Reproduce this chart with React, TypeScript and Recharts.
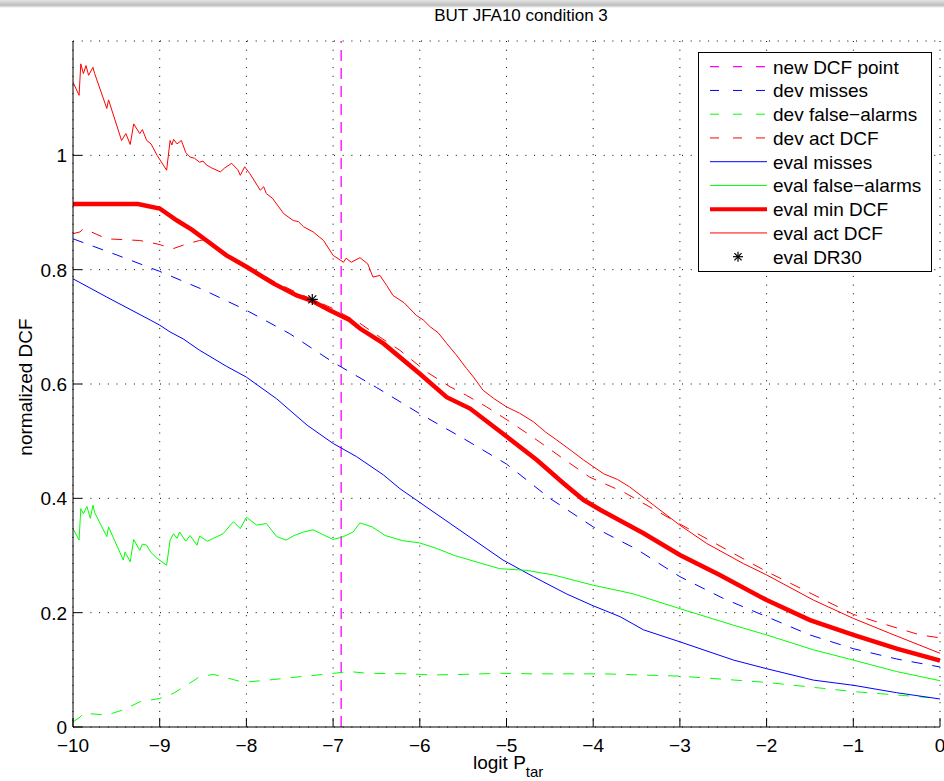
import React from 'react';
import {
  ComposedChart,
  Line,
  XAxis,
  YAxis,
  CartesianGrid,
  ReferenceLine,
  Legend,
  Label,
} from 'recharts';

type Pt = [number, number];

// Axis ticks
const xTicks = [-10, -9, -8, -7, -6, -5, -4, -3, -2, -1, 0];
const yTicks = [0, 0.2, 0.4, 0.6, 0.8, 1];

// logit of the new target prior (0.001)
const newDcfPoint = -6.907;

// eval DR30 operating point
const evalDr30: Pt[] = [[-7.24, 0.748]];

const devMisses: Pt[] = [
  [-10, 0.854], [-9.5, 0.826], [-9, 0.797], [-8.5, 0.765], [-8, 0.729],
  [-7.5, 0.688], [-7, 0.638], [-6.5, 0.594], [-6, 0.548], [-5.5, 0.505],
  [-5, 0.46], [-4.5, 0.4], [-4, 0.35], [-3.5, 0.311], [-3, 0.263],
  [-2.5, 0.225], [-2, 0.193], [-1.5, 0.161], [-1, 0.137], [-0.5, 0.119], [0, 0.105],
];

const devFalseAlarms: Pt[] = [
  [-10, 0.009], [-9.92, 0.017], [-9.88, 0.024], [-9.61, 0.021], [-9.42, 0.03],
  [-9.23, 0.044], [-9.0, 0.05], [-8.84, 0.059], [-8.69, 0.073], [-8.54, 0.088],
  [-8.38, 0.092], [-8.15, 0.083], [-8.04, 0.078], [-7.69, 0.083], [-7.38, 0.088],
  [-7.11, 0.092], [-6.81, 0.097], [-6.61, 0.094], [-6.11, 0.093], [-5.88, 0.091],
  [-5.5, 0.092], [-5.07, 0.094], [-4.69, 0.093], [-3.89, 0.093], [-3.0, 0.089],
  [-2.0, 0.078], [-1.0, 0.062], [0, 0.05],
];

const devActDcf: Pt[] = [
  [-10, 0.863], [-9.92, 0.866], [-9.88, 0.872], [-9.61, 0.854], [-9.23, 0.851],
  [-9.03, 0.845], [-8.84, 0.837], [-8.69, 0.845], [-8.54, 0.851], [-8.46, 0.853],
  [-8.3, 0.832], [-8.0, 0.808], [-7.69, 0.78], [-7.42, 0.76], [-7.0, 0.732],
  [-6.69, 0.706], [-6.46, 0.682], [-6.23, 0.659], [-5.92, 0.621], [-5.65, 0.595],
  [-5.46, 0.58], [-5.23, 0.56], [-4.96, 0.534], [-4.65, 0.502], [-4.38, 0.473],
  [-4.04, 0.437], [-3.65, 0.411], [-3.0, 0.355], [-2.0, 0.272], [-1.0, 0.197],
  [-0.73, 0.184], [-0.23, 0.161], [0, 0.156],
];

const evalMisses: Pt[] = [
  [-10, 0.784], [-9.61, 0.752], [-9.11, 0.712], [-9.0, 0.703], [-8.88, 0.691],
  [-8.73, 0.679], [-8.54, 0.659], [-8.23, 0.631], [-8.0, 0.612], [-7.65, 0.574],
  [-7.3, 0.528], [-7.0, 0.496], [-6.73, 0.473], [-6.42, 0.441], [-6.23, 0.417],
  [-5.65, 0.356], [-5.04, 0.292], [-4.69, 0.263], [-4.31, 0.233], [-4.0, 0.212],
  [-3.69, 0.193], [-3.42, 0.17], [-3.0, 0.149], [-2.38, 0.117], [-2.0, 0.102],
  [-1.46, 0.082], [-1.0, 0.073], [-0.5, 0.06], [0, 0.049],
];

const evalFalseAlarms: Pt[] = [
  [-10, 0.347], [-9.93, 0.327], [-9.91, 0.382], [-9.88, 0.373], [-9.84, 0.386],
  [-9.8, 0.365], [-9.77, 0.388], [-9.75, 0.375], [-9.61, 0.333], [-9.59, 0.35],
  [-9.42, 0.292], [-9.4, 0.306], [-9.34, 0.289], [-9.3, 0.328], [-9.23, 0.309],
  [-9.2, 0.32], [-9.15, 0.318], [-9.1, 0.305], [-9.03, 0.295], [-8.92, 0.283],
  [-8.88, 0.327], [-8.84, 0.338], [-8.8, 0.33], [-8.77, 0.341], [-8.7, 0.325],
  [-8.65, 0.335], [-8.57, 0.318], [-8.54, 0.334], [-8.45, 0.325], [-8.38, 0.33],
  [-8.27, 0.338], [-8.15, 0.359], [-8.07, 0.347], [-8.0, 0.367], [-7.88, 0.353],
  [-7.77, 0.356], [-7.65, 0.333], [-7.54, 0.327], [-7.45, 0.335], [-7.34, 0.341],
  [-7.23, 0.345], [-7.11, 0.336], [-7.0, 0.328], [-6.88, 0.333], [-6.77, 0.341],
  [-6.69, 0.357], [-6.55, 0.35], [-6.4, 0.335], [-6.2, 0.326], [-6.0, 0.322],
  [-5.8, 0.312], [-5.6, 0.3], [-5.42, 0.292], [-5.08, 0.277], [-4.77, 0.274],
  [-4.46, 0.266], [-4.0, 0.248], [-3.69, 0.238], [-3.54, 0.233], [-3.0, 0.207],
  [-2.38, 0.178], [-2.0, 0.161], [-1.46, 0.135], [-1.0, 0.117], [-0.5, 0.097], [0, 0.081],
];

const evalMinDcf: Pt[] = [
  [-10, 0.915], [-9.25, 0.915], [-9.0, 0.907], [-8.8, 0.886], [-8.63, 0.87],
  [-8.46, 0.851], [-8.23, 0.825], [-8.0, 0.805], [-7.69, 0.776], [-7.42, 0.755],
  [-7.25, 0.746], [-7.04, 0.729], [-6.81, 0.712], [-6.69, 0.697], [-6.42, 0.671],
  [-6.0, 0.618], [-5.69, 0.577], [-5.42, 0.557], [-5.04, 0.513], [-4.65, 0.467],
  [-4.34, 0.426], [-4.11, 0.397], [-3.92, 0.38], [-3.42, 0.339], [-3.0, 0.301],
  [-2.54, 0.266], [-2.0, 0.222], [-1.5, 0.187], [-1.0, 0.161], [-0.5, 0.137], [0, 0.116],
];

const evalActDcf: Pt[] = [
  [-10, 1.128], [-9.93, 1.105], [-9.91, 1.16], [-9.88, 1.143], [-9.85, 1.157],
  [-9.82, 1.14], [-9.77, 1.154], [-9.75, 1.143], [-9.61, 1.082], [-9.59, 1.097],
  [-9.44, 1.026], [-9.39, 1.038], [-9.34, 1.019], [-9.3, 1.055], [-9.23, 1.038],
  [-9.2, 1.045], [-9.15, 1.026], [-9.1, 1.02], [-9.03, 1.0], [-8.92, 0.974],
  [-8.88, 1.026], [-8.86, 1.018], [-8.84, 1.028], [-8.8, 1.02], [-8.75, 1.026],
  [-8.7, 1.005], [-8.65, 0.997], [-8.6, 0.995], [-8.54, 0.988], [-8.5, 0.99],
  [-8.46, 0.983], [-8.4, 0.978], [-8.3, 0.971], [-8.25, 0.978], [-8.17, 0.986],
  [-8.1, 0.975], [-8.07, 0.965], [-8.02, 0.98], [-7.96, 0.968], [-7.84, 0.939],
  [-7.8, 0.945], [-7.77, 0.933], [-7.7, 0.925], [-7.57, 0.898], [-7.46, 0.886],
  [-7.4, 0.884], [-7.34, 0.875], [-7.23, 0.866], [-7.11, 0.851], [-7.0, 0.825],
  [-6.88, 0.813], [-6.85, 0.82], [-6.79, 0.813], [-6.69, 0.821], [-6.6, 0.81],
  [-6.54, 0.787], [-6.46, 0.79], [-6.38, 0.772], [-6.31, 0.755], [-6.18, 0.742],
  [-6.04, 0.72], [-5.96, 0.712], [-5.88, 0.7], [-5.79, 0.69], [-5.69, 0.671],
  [-5.58, 0.651], [-5.46, 0.627], [-5.38, 0.612], [-5.27, 0.589], [-5.15, 0.575],
  [-5.0, 0.56], [-4.85, 0.549], [-4.69, 0.534], [-4.55, 0.516], [-4.42, 0.502],
  [-4.25, 0.483], [-4.11, 0.467], [-3.88, 0.443], [-3.72, 0.433], [-3.58, 0.42],
  [-3.38, 0.397], [-3.0, 0.353], [-2.69, 0.321], [-2.27, 0.286], [-2.0, 0.266],
  [-1.46, 0.222], [-1.0, 0.19], [-0.58, 0.164], [0, 0.129],
];

const FONT = '"Liberation Sans", Arial, Helvetica, sans-serif';
const FS = 19;

const RED = '#ff0000';
const BLUE = '#0000ff';
const GREEN = '#00ff00';
const MAGENTA = '#ff00ff';

const rows = (pts: Pt[]) => pts.map(([x, y]) => ({ x, y }));

const fmtX = (v: number) => (v < 0 ? `\u2212${Math.abs(v)}` : `${v}`);

// Inward-pointing ticks, MATLAB style
const XTick = (props: any) => {
  const { x, y, payload } = props;
  return (
    <g>
      <line x1={x} x2={x} y1={y} y2={y - 9} stroke="#000" strokeWidth={1} />
      <text x={x} y={y + 25} textAnchor="middle" fontSize={FS} fontFamily={FONT} fill="#000">
        {fmtX(payload.value)}
      </text>
    </g>
  );
};

const YTick = (props: any) => {
  const { x, y, payload } = props;
  return (
    <g>
      <line x1={x} x2={x + 9} y1={y} y2={y} stroke="#000" strokeWidth={1} />
      <text x={x - 6} y={y + 7} textAnchor="end" fontSize={FS} fontFamily={FONT} fill="#000">
        {String(payload.value)}
      </text>
    </g>
  );
};

const Asterisk = ({ cx, cy, r = 5 }: { cx: number; cy: number; r?: number }) => {
  const d = r * 0.72;
  return (
    <g stroke="#000" strokeWidth={1.2}>
      <line x1={cx - r} x2={cx + r} y1={cy} y2={cy} />
      <line x1={cx} x2={cx} y1={cy - r} y2={cy + r} />
      <line x1={cx - d} x2={cx + d} y1={cy - d} y2={cy + d} />
      <line x1={cx - d} x2={cx + d} y1={cy + d} y2={cy - d} />
    </g>
  );
};

const AsteriskDot = (props: any) => {
  const { cx, cy } = props;
  if (cx == null || cy == null) return null;
  return <Asterisk cx={cx} cy={cy} r={5.5} />;
};

const legendItems = [
  { label: 'new DCF point', color: MAGENTA, width: 1.3, dash: true },
  { label: 'dev misses', color: BLUE, width: 1, dash: true },
  { label: 'dev false\u2212alarms', color: GREEN, width: 1, dash: true },
  { label: 'dev act DCF', color: RED, width: 1, dash: true },
  { label: 'eval misses', color: BLUE, width: 1, dash: false },
  { label: 'eval false\u2212alarms', color: GREEN, width: 1, dash: false },
  { label: 'eval min DCF', color: RED, width: 4, dash: false },
  { label: 'eval act DCF', color: RED, width: 1, dash: false },
  { label: 'eval DR30', color: '#000', width: 1, dash: false, marker: true },
];

const LegendBox = () => (
  <svg width={234} height={220} style={{ display: 'block' }}>
    <rect x={0.5} y={0.5} width={233} height={219} fill="#fff" stroke="#000" strokeWidth={1} />
    {legendItems.map((it, i) => {
      const cy = 14.7 + i * 23.75;
      return (
        <g key={it.label}>
          {it.marker ? (
            <Asterisk cx={40} cy={cy} r={5} />
          ) : (
            <line
              x1={12}
              x2={69}
              y1={cy}
              y2={cy}
              stroke={it.color}
              strokeWidth={it.width}
              strokeDasharray={it.dash ? '9 14' : undefined}
            />
          )}
          <text x={75} y={cy + 7} fontSize={FS} fontFamily={FONT} fill="#000">
            {it.label}
          </text>
        </g>
      );
    })}
  </svg>
);

export default function App() {
  return (
    <div
      style={{
        position: 'fixed',
        left: 0,
        top: 0,
        width: 944,
        height: 781,
        background: '#fff',
        overflow: 'hidden',
      }}
    >
      <div
        style={{
          position: 'absolute',
          left: 0,
          top: 0,
          width: 944,
          height: 8,
          background: 'linear-gradient(#e4e4e4, #bdbdbd 65%, #ffffff)',
        }}
      />
      <ComposedChart
        width={944}
        height={781}
        margin={{ top: 41, right: 4, bottom: 0, left: 0 }}
        style={{ fontFamily: FONT }}
      >
        <CartesianGrid stroke="#000" strokeDasharray="1 7.7" strokeWidth={1} />
        <XAxis
          type="number"
          dataKey="x"
          domain={[-10, 0]}
          ticks={xTicks}
          interval={0}
          height={54}
          tickSize={0}
          tickMargin={0}
          tick={<XTick />}
          axisLine={{ stroke: '#000', strokeWidth: 1 }}
          allowDataOverflow
        >
          <Label
            content={() => (
              <g>
                <text x={473} y={769} fontSize={FS} fontFamily={FONT} fill="#000">
                  logit P
                  <tspan dy={8} fontSize={15}>
                    tar
                  </tspan>
                </text>
                <text x={521} y={21} textAnchor="middle" fontSize={17} fontFamily={FONT} fill="#000">
                  BUT JFA10 condition 3
                </text>
              </g>
            )}
          />
        </XAxis>
        <YAxis
          type="number"
          domain={[0, 1.2]}
          ticks={yTicks}
          interval={0}
          width={73}
          tickSize={0}
          tickMargin={0}
          tick={<YTick />}
          axisLine={{ stroke: '#000', strokeWidth: 1 }}
          allowDataOverflow
        >
          <Label
            content={() => (
              <text
                x={32}
                y={387}
                transform="rotate(-90, 32, 387)"
                textAnchor="middle"
                fontSize={FS}
                fontFamily={FONT}
                fill="#000"
              >
                normalized DCF
              </text>
            )}
          />
        </YAxis>

        <ReferenceLine
          x={newDcfPoint}
          stroke={MAGENTA}
          strokeWidth={1.3}
          strokeDasharray="11 7"
        />

        <Line data={rows(devMisses)} dataKey="y" type="linear" stroke={BLUE} strokeWidth={1}
          strokeDasharray="11 10" dot={false} isAnimationActive={false} />
        <Line data={rows(devFalseAlarms)} dataKey="y" type="linear" stroke={GREEN} strokeWidth={1}
          strokeDasharray="11 10" dot={false} isAnimationActive={false} />
        <Line data={rows(devActDcf)} dataKey="y" type="linear" stroke={RED} strokeWidth={1}
          strokeDasharray="11 10" dot={false} isAnimationActive={false} />
        <Line data={rows(evalMisses)} dataKey="y" type="linear" stroke={BLUE} strokeWidth={1}
          dot={false} isAnimationActive={false} />
        <Line data={rows(evalFalseAlarms)} dataKey="y" type="linear" stroke={GREEN} strokeWidth={1}
          dot={false} isAnimationActive={false} />
        <Line data={rows(evalMinDcf)} dataKey="y" type="linear" stroke={RED} strokeWidth={4.5}
          dot={false} isAnimationActive={false} />
        <Line data={rows(evalActDcf)} dataKey="y" type="linear" stroke={RED} strokeWidth={1}
          dot={false} isAnimationActive={false} />
        <Line data={rows(evalDr30)} dataKey="y" type="linear" stroke="none"
          dot={<AsteriskDot />} isAnimationActive={false} />

        <Legend
          layout="vertical"
          align="center"
          verticalAlign="middle"
          content={() => <LegendBox />}
          wrapperStyle={{ left: 698, top: 52, width: 234, height: 220 }}
        />
      </ComposedChart>
    </div>
  );
}
